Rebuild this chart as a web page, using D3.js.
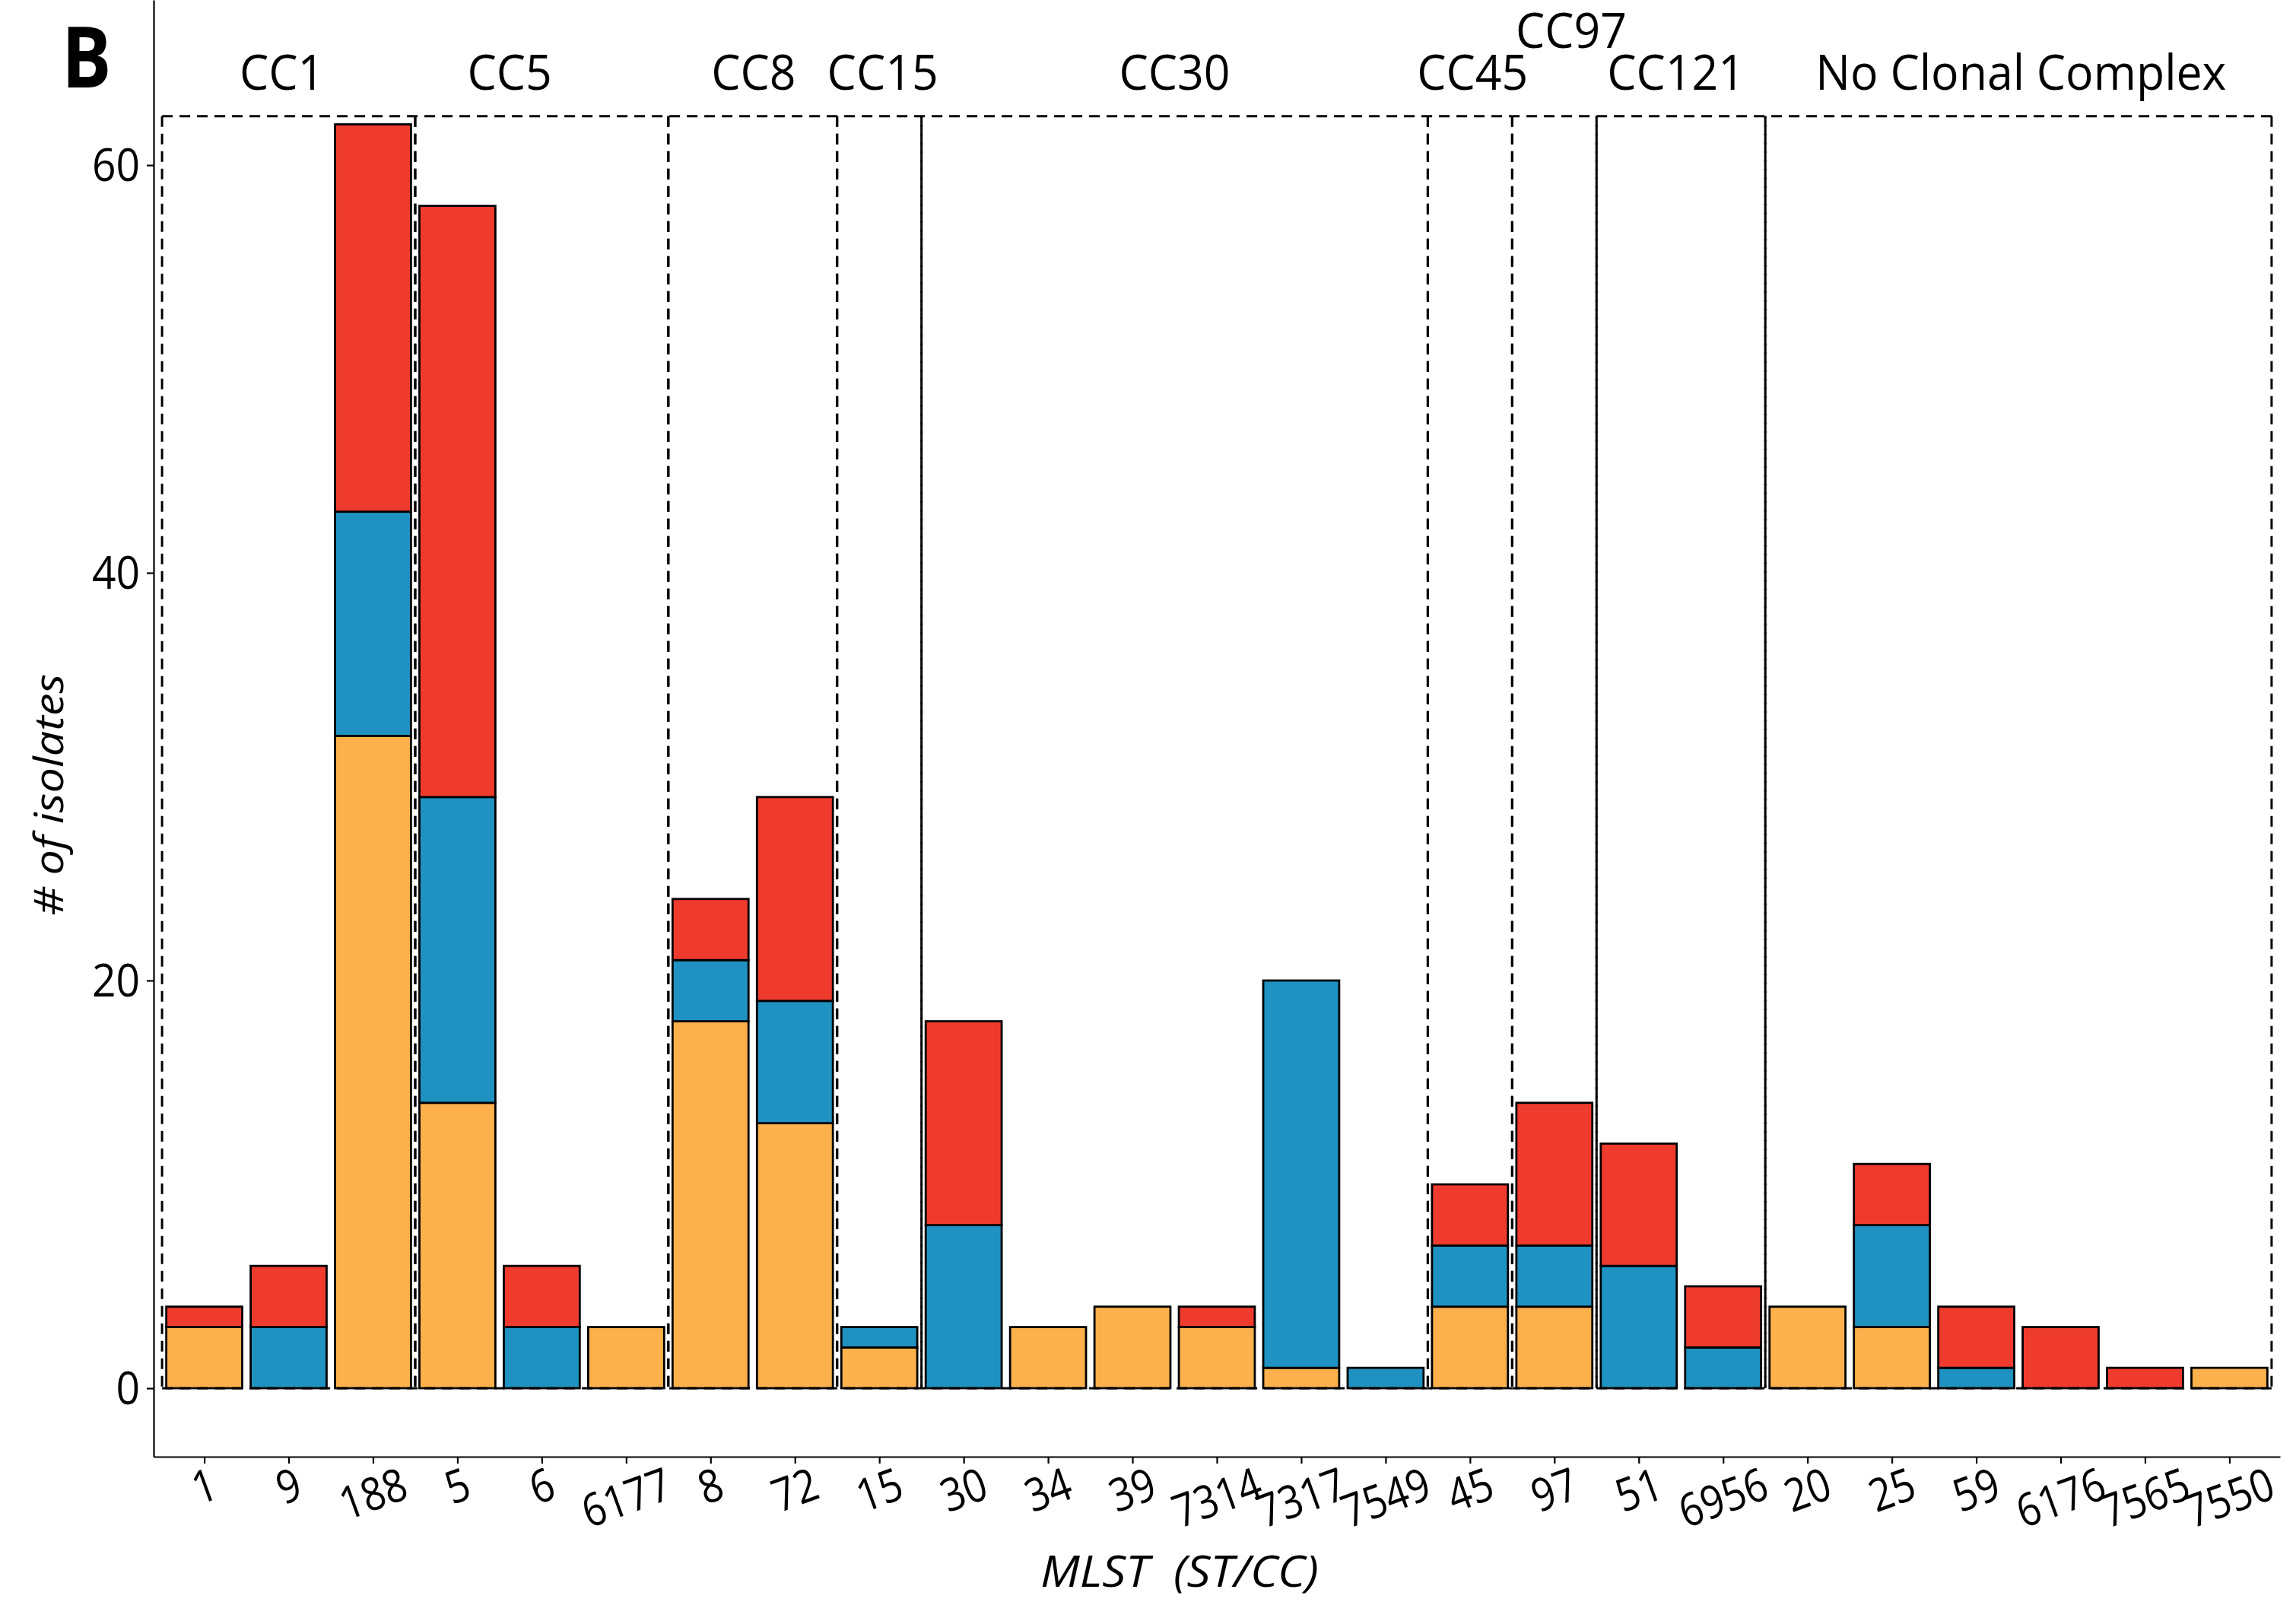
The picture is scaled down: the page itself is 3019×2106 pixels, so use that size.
<!DOCTYPE html>
<html>
<head>
<meta charset="utf-8">
<script src="https://cdn.jsdelivr.net/npm/d3@7"></script>
<style>
  html, body { margin: 0; padding: 0; background: #fff; }
  text { font-family: "Open Sans", "Noto Sans", sans-serif; fill: #000; }
</style>
</head>
<body>
<svg id="chart" width="3019" height="2106"></svg>
<script>
// ---------------- data ----------------
const categories = ["1","9","188","5","6","6177","8","72","15","30","34","39","7314","7317","7549","45","97","51","6956","20","25","59","6176","7565","7550"];
const orangeValues = [3,0,32,14,0,3,18,13,2,0,3,4,3,1,0,4,4,0,0,4,3,0,0,0,1];
const blueValues   = [0,3,11,15,3,0,3,6,1,8,0,0,0,19,1,3,3,6,2,0,5,1,0,0,0];
const redValues    = [1,3,19,29,3,0,3,10,0,10,0,0,1,0,0,3,7,6,3,0,3,3,3,1,0];
const seriesNames  = ["orange","blue","red"];

const groupNames  = ["CC1","CC5","CC8","CC15","CC30","CC45","CC97","CC121","No Clonal Complex"];
const groupFirst  = ["1","5","8","15","30","45","97","51","20"];
const groupLast   = ["188","6177","72","15","7549","45","97","6956","7550"];
const groupLabelX = [0.92,3.62,6.51,8.04,11.5,15.03,16.2,17.44,21.53];   // category-index units
const groupLabelY = [63.7,63.7,63.7,63.7,63.7,63.7,65.75,63.7,63.7];    // value units (baseline)
const groupBoxTop = 62.4;

const yTicks = [0,20,40,60];
const panelLetter = "B";
const xTitle = "MLST\u00A0\u00A0(ST/CC)";
const yTitle = "# of isolates";

// ---------------- styling ----------------
const seriesColors = ["#FDB14C","#1F92C1","#EF3B2E"];
// right edges whose dashes fall between the neighbour's dashes (reads as a solid line)
const offsetRightEdge = ["CC15","CC97","CC121"];

(function () {
const W = 3019, H = 2106;
const pLeft = 202, pRight = 2998, pBottom = 1915, pTop = 0;
const SX = 0.87;       // tick-label condensation
const SXG = 0.95;      // group-label condensation
const svg = d3.select("#chart");
svg.append("rect").attr("width", W).attr("height", H).attr("fill", "#fff");

const x = d3.scalePoint().domain(categories).range([pLeft, pRight]).padding(0.6);
const step = x.step();
const barW = step * 0.9;
const y = d3.scaleLinear().domain([-3.36, 68.1]).range([pBottom, pTop]);
const xIdx = i => x(categories[0]) + i * step;

// stacked bars
const rows = categories.map((c, i) => ({cat: c, orange: orangeValues[i], blue: blueValues[i], red: redValues[i]}));
const stack = d3.stack().keys(seriesNames)(rows);
const gBars = svg.append("g");
stack.forEach((layer, si) => {
  gBars.selectAll(null)
    .data(layer.filter(d => d[1] - d[0] > 0))
    .join("rect")
    .attr("x", d => x(d.data.cat) - barW / 2)
    .attr("width", barW)
    .attr("y", d => y(d[1]))
    .attr("height", d => y(d[0]) - y(d[1]))
    .attr("fill", seriesColors[si])
    .attr("stroke", "#000")
    .attr("stroke-width", 2.8);
});

// group boxes drawn edge by edge
const DASH = [14, 9], PERIOD = DASH[0] + DASH[1];
const X0 = x(groupFirst[0]) - step / 2;
const edges = [];
groupNames.forEach((name, i) => {
  const x0 = x(groupFirst[i]) - step / 2;
  const x1 = x(groupLast[i]) + step / 2;
  const yt = y(groupBoxTop), yb = y(0);
  edges.push({x1: x0, y1: yt, x2: x1, y2: yt, off: (x0 - X0) % PERIOD});
  edges.push({x1: x0, y1: yb, x2: x1, y2: yb, off: (x0 - X0) % PERIOD});
  edges.push({x1: x0, y1: yt, x2: x0, y2: yb, off: 0});
  edges.push({x1: x1, y1: yt, x2: x1, y2: yb, off: offsetRightEdge.includes(name) ? PERIOD / 2 : 0});
});
svg.append("g").selectAll("line").data(edges).join("line")
  .attr("x1", d => d.x1).attr("y1", d => d.y1)
  .attr("x2", d => d.x2).attr("y2", d => d.y2)
  .attr("stroke", "#000").attr("stroke-width", 3)
  .attr("stroke-dasharray", DASH.join(","))
  .attr("stroke-dashoffset", d => d.off);

// group labels
groupNames.forEach((name, i) => {
  svg.append("text")
    .attr("transform", `translate(${xIdx(groupLabelX[i])},${y(groupLabelY[i])}) scale(${SXG},1)`)
    .attr("text-anchor", "middle")
    .attr("font-size", 64)
    .text(name);
});

// y axis
const yAxis = d3.axisLeft(y).tickValues(yTicks).tickSize(9).tickSizeOuter(0);
const gy = svg.append("g").attr("transform", `translate(${pLeft},0)`).call(yAxis);
gy.selectAll("text").remove();
gy.select(".domain").attr("stroke-width", 2.2);
gy.selectAll(".tick line").attr("stroke-width", 2.2);
yTicks.forEach(v => {
  svg.append("text")
    .attr("transform", `translate(184,${y(v)}) scale(0.92,1)`)
    .attr("text-anchor", "end").attr("y", 21.4)
    .attr("font-size", 60).text(v);
});

// x axis
const xAxis = d3.axisBottom(x).tickSize(9).tickSizeOuter(0);
const gx = svg.append("g").attr("transform", `translate(0,${pBottom})`).call(xAxis);
gx.selectAll("text").remove();
gx.select(".domain").attr("stroke-width", 2.2);
gx.selectAll(".tick line").attr("stroke-width", 2.2);

const ang = 20 * Math.PI / 180;
const labelTop = 1928, glyphH = 43;
categories.forEach(c => {
  const t = svg.append("text")
    .attr("text-anchor", "middle").attr("y", 21.4)
    .attr("font-size", 60).text(c);
  const L = t.node().getComputedTextLength() * SX;
  const cy = labelTop + (L / 2) * Math.sin(ang) + (glyphH / 2) * Math.cos(ang);
  t.attr("transform", `translate(${x(c)},${cy}) rotate(-20) scale(${SX},1)`);
});

// titles
svg.append("text")
  .attr("transform", `translate(1551,2086) scale(1.1,1)`)
  .attr("text-anchor", "middle").attr("font-size", 56).attr("font-style", "italic")
  .text(xTitle);
svg.append("text")
  .attr("transform", `translate(83,1045) rotate(-90) scale(1.12,1)`)
  .attr("text-anchor", "middle").attr("font-size", 53).attr("font-style", "italic")
  .text(yTitle);
svg.append("text")
  .attr("transform", `translate(81,115) scale(${SX},1)`)
  .attr("text-anchor", "start").attr("font-size", 112).attr("font-weight", "bold")
  .text(panelLetter);
})();
</script>
</body>
</html>
